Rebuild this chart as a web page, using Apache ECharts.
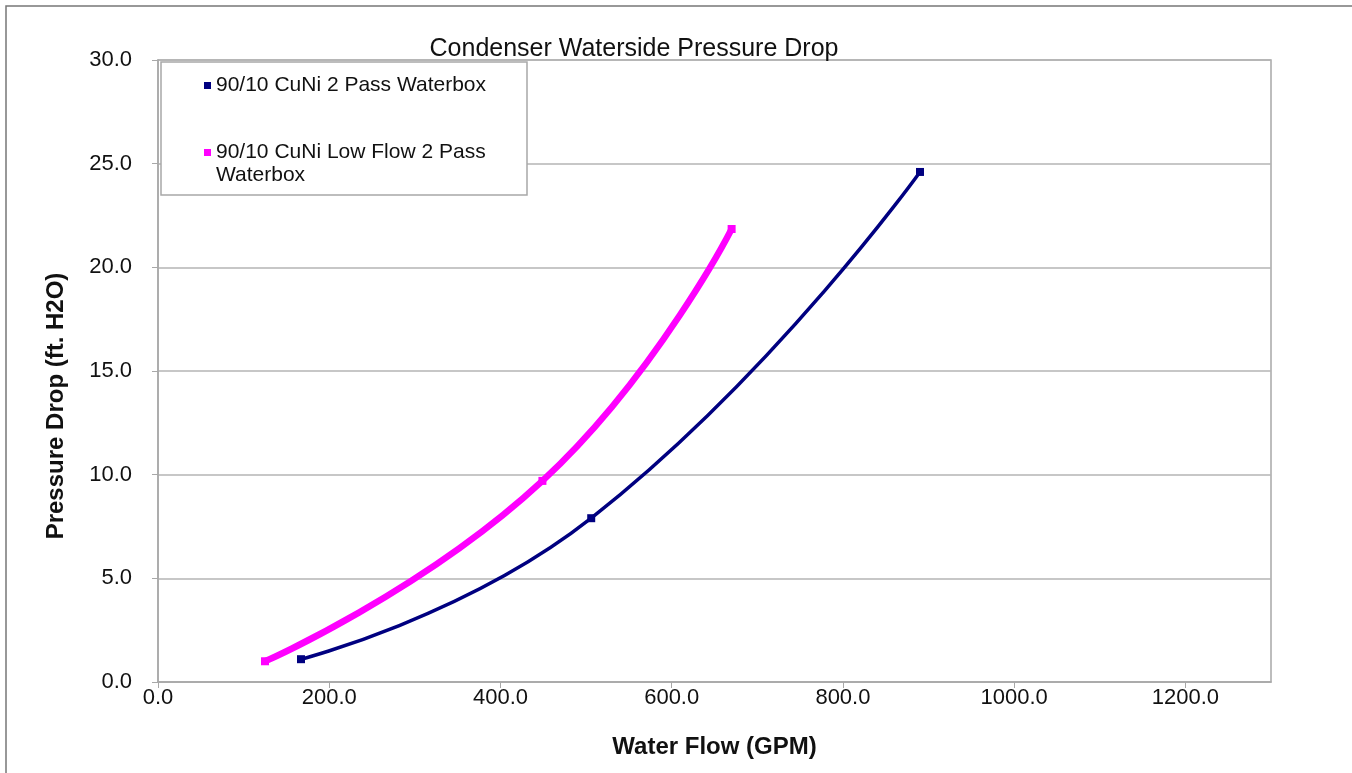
<!DOCTYPE html>
<html>
<head>
<meta charset="utf-8">
<style>
  html, body { margin: 0; padding: 0; background: #fff; }
  #chart { width: 1352px; height: 773px; }
</style>
<script src="https://cdn.jsdelivr.net/npm/echarts@6/dist/echarts.min.js"></script>
</head>
<body>
<div id="chart"></div>
<script>
const seriesNames = ['90/10 CuNi 2 Pass Waterbox', '90/10 CuNi Low Flow 2 Pass Waterbox'];
const standardFlow = [167, 506, 890];
const standardDrop = [1.1, 7.9, 24.6];
const lowFlow = [125, 449, 670];
const lowDrop = [1.0, 9.7, 21.85];
const xTicks = [0, 200, 400, 600, 800, 1000, 1200];
const yTicks = [0, 5, 10, 15, 20, 25, 30];

const toPairs = (xs, ys) => xs.map((x, i) => [x, ys[i]]);

const chart = echarts.init(document.getElementById('chart'));
const font = 'Liberation Sans, Arial, sans-serif';

chart.setOption({
  animation: false,
  backgroundColor: '#fff',
  title: {
    text: 'Condenser Waterside Pressure Drop',
    left: 629,
    top: 32,
    textAlign: 'center',
    textStyle: { fontFamily: font, fontSize: 25, fontWeight: 'normal', color: '#111' }
  },
  grid: { left: 158, right: 81, top: 60, bottom: 91, show: true, borderColor: '#a8a8a8', borderWidth: 1.5 },
  graphic: [
    {
      type: 'rect', z: 3,
      shape: { x: 6, y: 6, width: 1400, height: 800 },
      style: { fill: 'none', stroke: '#777', lineWidth: 1.5 }
    },
    {
      type: 'rect', z: 3,
      shape: { x: 161, y: 62, width: 366, height: 133 },
      style: { fill: '#fff', stroke: '#a8a8a8', lineWidth: 1.5 }
    }
  ],
  legend: {
    orient: 'vertical',
    left: 199,
    top: 69,
    z: 4,
    itemGap: 21,
    itemWidth: 7,
    itemHeight: 7,
    icon: 'rect',
    textStyle: { fontFamily: font, fontSize: 21, color: '#111', lineHeight: 23 },
    // leading blank line keeps the marker level with the first text line
    formatter: name => name === seriesNames[1] ? '\n90/10 CuNi Low Flow 2 Pass\nWaterbox' : name,
    data: seriesNames
  },
  xAxis: {
    type: 'value',
    min: 0,
    max: 1300,
    interval: 200,
    name: 'Water Flow (GPM)',
    nameLocation: 'middle',
    nameGap: 53,
    nameTextStyle: { fontFamily: font, fontSize: 24, fontWeight: 'bold', color: '#111' },
    axisLine: { lineStyle: { color: '#a8a8a8', width: 1.5 } },
    axisTick: { show: true, length: 6, lineStyle: { color: '#a8a8a8' } },
    axisLabel: {
      showMaxLabel: false,
      margin: 5,
      fontFamily: font, fontSize: 22, color: '#111',
      formatter: v => xTicks.includes(v) ? v.toFixed(1) : ''
    },
    splitLine: { show: false }
  },
  yAxis: {
    type: 'value',
    min: 0,
    max: 30,
    interval: 5,
    name: 'Pressure Drop (ft. H2O)',
    nameLocation: 'middle',
    nameGap: 90,
    nameTextStyle: { fontFamily: font, fontSize: 24, fontWeight: 'bold', color: '#111', padding: [0, 70, 0, 0] },
    axisLine: { show: true, lineStyle: { color: '#a8a8a8', width: 1.5 } },
    axisTick: { show: true, length: 6, lineStyle: { color: '#a8a8a8' } },
    axisLabel: {
      margin: 26,
      fontFamily: font, fontSize: 22, color: '#111',
      formatter: v => yTicks.includes(v) ? v.toFixed(1) : ''
    },
    splitLine: { show: true, lineStyle: { color: '#b4b4b4', width: 1.5 } }
  },
  series: [
    {
      name: seriesNames[0],
      type: 'line',
      z: 2,
      smooth: 0.5,
      data: toPairs(standardFlow, standardDrop),
      symbol: 'rect',
      symbolSize: 8,
      color: '#000080',
      itemStyle: { color: '#000080' },
      lineStyle: { color: '#000080', width: 3.5 }
    },
    {
      name: seriesNames[1],
      type: 'line',
      z: 2,
      smooth: 0.5,
      data: toPairs(lowFlow, lowDrop),
      symbol: 'rect',
      symbolSize: 8,
      color: '#ff00ff',
      itemStyle: { color: '#ff00ff' },
      lineStyle: { color: '#ff00ff', width: 6.5 }
    }
  ]
});
</script>
</body>
</html>
